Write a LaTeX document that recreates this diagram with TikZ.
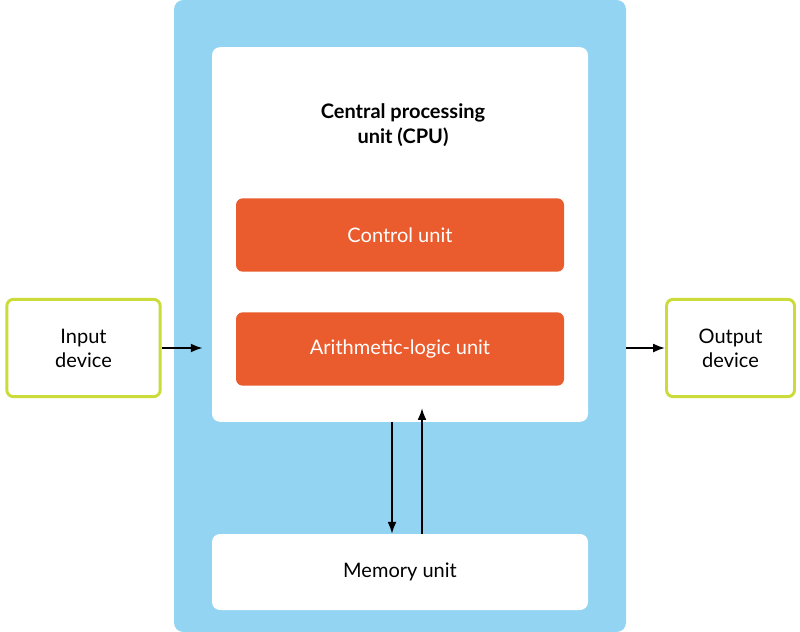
\documentclass[tikz,border=0pt]{standalone}
\usepackage{fontspec}
\setmainfont{Lato}
\usetikzlibrary{arrows.meta, positioning}
\definecolor{panelblue}{HTML}{92D4F2}
\definecolor{unitorange}{HTML}{EA5C2D}
\definecolor{devgreen}{HTML}{CADB3A}

\begin{document}
\begin{tikzpicture}[x=0.75pt,y=-0.75pt,>=Latex,font=\fontsize{15}{18}\selectfont]
  \tikzset{panel/.style={fill=white,rounded corners=6pt,draw=none},
    unit/.style={fill=unitorange,rounded corners=5pt,text=white,minimum width=246pt,minimum height=55pt},
    device/.style={draw=devgreen,line width=2.2pt,fill=white,rounded corners=5pt,align=center}}
  \useasboundingbox (0,0) rectangle (800,632);

  \node[fill=panelblue,rounded corners=7pt,minimum width=339pt,minimum height=474pt] (board) at (400,316) {};
  \node[panel,minimum width=282pt,minimum height=281pt] (cpu) at (400,234.5) {};
  \node[align=center,font=\fontsize{15}{19}\selectfont\bfseries] (cputitle) at (403,125) {Central processing\\unit (CPU)};
  \node[unit] (ctrl) at (400,235) {Control unit};
  \node[unit] (alu) at (400,349) {Arithmetic-logic unit};
  \node[panel,minimum width=282pt,minimum height=57pt] (mem) at (400,572) {Memory unit};
  \node[device,minimum width=115pt,minimum height=73pt] (in) at (83.5,348) {Input\\device};
  \node[device,minimum width=96pt,minimum height=73pt] (out) at (730.5,348) {Output\\device};

  \draw[->,line width=1.3pt] (in.east) -- ++(41,0);
  \draw[->,line width=1.3pt] (board.east |- out.west) -- (out.west);
  \draw[->,line width=1.3pt] ([xshift=-6pt]cpu.south) -- ([xshift=-6pt]mem.north);
  \draw[->,line width=1.3pt] ([xshift=16.5pt]mem.north) -- ([xshift=16.5pt,yshift=10.5pt]cpu.south);
\end{tikzpicture}
\end{document}
